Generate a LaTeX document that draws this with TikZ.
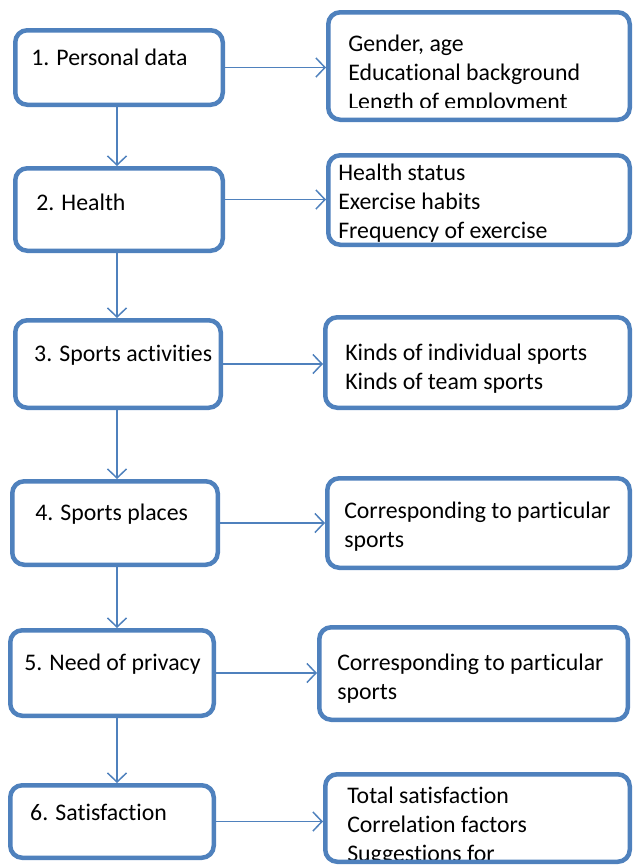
\documentclass[tikz,border=0pt]{standalone}
\usepackage{fontspec}
\setmainfont{Carlito}[Ligatures=NoCommon]
\usetikzlibrary{arrows.meta}
\definecolor{wordblue}{RGB}{79,129,189}
\newcommand{\boxfont}{\fontsize{23.8}{28.8}\selectfont}

\tikzset{
  stage/.style={draw=wordblue, line width=4.5pt, rounded corners=12pt, fill=white, inner sep=0pt},
  boxtext/.style={anchor=north west, inner sep=0pt, minimum width=0pt, minimum height=0pt, align=left, font=\boxfont},
  inside/.style n args={4}{path picture={
      \clip (path picture bounding box.north west) rectangle ([yshift=#3]path picture bounding box.south east);
      \node[boxtext] at ([shift={(#1,#2)}]path picture bounding box.north west) {\strut #4};}},
  flow/.style={draw=wordblue, line width=1.5pt, -{Straight Barb[length=9pt,width=19pt]}}
}

\begin{document}
\begin{tikzpicture}[x=1pt, y=-1pt]
  \useasboundingbox (0,0) rectangle (633,865);

  % stages on the left
  \node[stage, minimum width=207.5, minimum height=74.5, inside={13.75}{13.25}{0pt}{1. Personal data}] (l1) at (119,67.5) {};
  \node[stage, minimum width=207.5, minimum height=82.5, inside={18.75}{20.25}{0pt}{2. Health}] (l2) at (119,209.5) {};
  \node[stage, minimum width=205.5, minimum height=87.5, inside={16.75}{19.25}{0pt}{3. Sports activities}] (l3) at (118,364) {};
  \node[stage, minimum width=205.5, minimum height=83.5, inside={20.75}{17.25}{0pt}{4. Sports places}] (l4) at (115,523) {};
  \node[stage, minimum width=203.5, minimum height=85.5, inside={11.75}{18.25}{0pt}{5. Need of privacy}] (l5) at (112,673) {};
  \node[stage, minimum width=203.5, minimum height=72.5, inside={17.75}{13.25}{0pt}{6. Satisfaction}] (l6) at (112,821.5) {};

  % contents on the right
  \node[stage, minimum width=301.5, minimum height=107.5, inside={17.75}{17.25}{12.75pt}{Gender, age\\Educational background\\Length of employment}] (r1) at (479,66) {};
  \node[stage, minimum width=301.5, minimum height=89.5, inside={7.75}{3.25}{0pt}{Health status\\Exercise habits\\Frequency of exercise}] (r2) at (479,200) {};
  \node[stage, minimum width=304.5, minimum height=90.5, inside={17.75}{21.25}{0pt}{Kinds of individual sports\\Kinds of team sports}] (r3) at (477.5,362.5) {};
  \node[stage, minimum width=302.5, minimum height=89.5, inside={14.75}{18.25}{0pt}{Corresponding to particular\\sports}] (r4) at (478.5,523) {};
  \node[stage, minimum width=308.5, minimum height=92.5, inside={15.75}{21.25}{0pt}{Corresponding to particular\\sports}] (r5) at (473.5,673.5) {};
  \node[stage, minimum width=304.5, minimum height=87.5, inside={19.75}{7.25}{1pt}{Total satisfaction\\Correlation factors\\Suggestions for}] (r6) at (477.5,818) {};

  % down the left column
  \draw[flow] ([xshift=-2pt]l1.south) -- ([xshift=-2pt]l1.south |- l2.north);
  \draw[flow] ([xshift=-2pt]l2.south) -- ([xshift=-2pt]l2.south |- l3.north);
  \draw[flow] ([xshift=-1pt]l3.south) -- ([xshift=-1pt]l3.south |- l4.north);
  \draw[flow] ([xshift=2pt]l4.south) -- ([xshift=2pt]l4.south |- l5.north);
  \draw[flow] ([xshift=5pt]l5.south) -- ([xshift=5pt]l5.south |- l6.north);

  % across to the right
  \coordinate (h2) at ([yshift=10pt]l2.east);
  \draw[flow] (l1.east) -- (r1.west |- l1.east);
  \draw[flow] (h2) -- (r2.west |- h2);
  \draw[flow] (l3.east) -- (r3.west |- l3.east);
  \draw[flow] (l4.east) -- (r4.west |- l4.east);
  \draw[flow] (l5.east) -- (r5.west |- l5.east);
  \draw[flow] (l6.east) -- (r6.west |- l6.east);
\end{tikzpicture}
\end{document}
